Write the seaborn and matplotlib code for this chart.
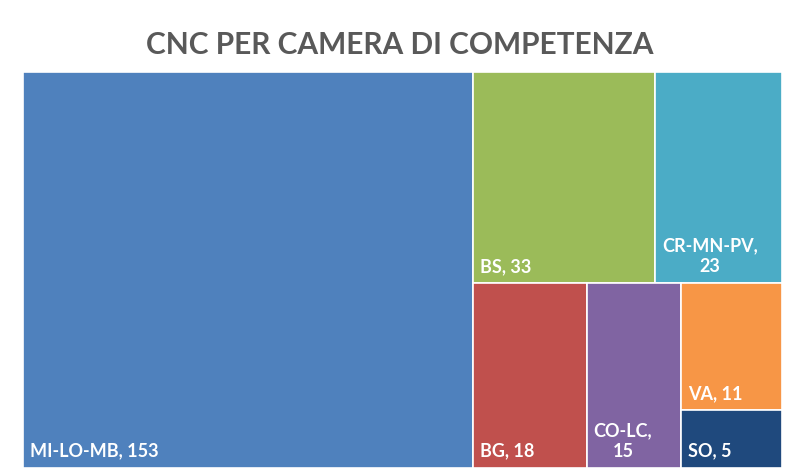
import matplotlib
matplotlib.use("Agg")
import matplotlib.pyplot as plt
import seaborn as sns
from matplotlib.patches import Rectangle

# dati
camere = ["MI-LO-MB", "BS", "CR-MN-PV", "BG", "CO-LC", "VA", "SO"]
cnc = [153, 33, 23, 18, 15, 11, 5]
colori = ["#4F81BD", "#9BBB59", "#4BACC6", "#C0504D", "#8064A2", "#F79646", "#1F497D"]
a_capo = ["CR-MN-PV", "CO-LC"]  # etichette su due righe


def peggiore(riga, lato):
    s = sum(riga)
    return max(max(lato * lato * r / (s * s), s * s / (lato * lato * r)) for r in riga)


def disponi(riga, x, y, w, h, rects):
    s = sum(riga)
    if w >= h:
        # colonna a sinistra
        cw = s / h
        yy = y
        for r in riga:
            rh = r / cw
            rects.append((x, yy, cw, rh))
            yy += rh
        return x + cw, y, w - cw, h
    else:
        # riga in alto
        rh = s / w
        xx = x
        for r in riga:
            rw = r / rh
            rects.append((xx, y + h - rh, rw, rh))
            xx += rw
        return x, y, w, h - rh


def squarify(valori, x, y, w, h):
    tot = sum(valori)
    aree = [v * w * h / tot for v in valori]
    rects = []
    riga = []
    i = 0
    while i < len(aree):
        lato = min(w, h)
        a = aree[i]
        if not riga or peggiore(riga + [a], lato) <= peggiore(riga, lato):
            riga.append(a)
            i += 1
        else:
            x, y, w, h = disponi(riga, x, y, w, h, rects)
            riga = []
    if riga:
        disponi(riga, x, y, w, h, rects)
    return rects


sns.set_theme(style="white")
plt.rcParams["font.family"] = ["Lato", "DejaVu Sans"]

W, H = 759, 396
fig = plt.figure(figsize=(7.87, 4.73), dpi=100)
ax = fig.add_axes([23 / 787, 5 / 473, W / 787, H / 473])

rects = squarify(cnc, 0, 0, W, H)
for (x, y, w, h), nome, v, c in zip(rects, camere, cnc, colori):
    ax.add_patch(Rectangle((x, y), w, h, facecolor=c, edgecolor="white", linewidth=1.2))
    if nome in a_capo:
        testo = f"{nome},\n{v}"
    else:
        testo = f"{nome}, {v}"
    ax.annotate(testo, (x, y), xytext=(5, 6), textcoords="offset points",
                ha="left", va="bottom", multialignment="center",
                color="white", fontsize=13, fontweight="bold", linespacing=1.25)

ax.set_xlim(0, W)
ax.set_ylim(0, H)
ax.axis("off")

fig.text(0.508, 0.905, "CNC PER CAMERA DI COMPETENZA", ha="center", va="center",
         fontsize=21.5, fontweight="bold", color="#595959")

fig.savefig("out.png", dpi=100, facecolor="white")
